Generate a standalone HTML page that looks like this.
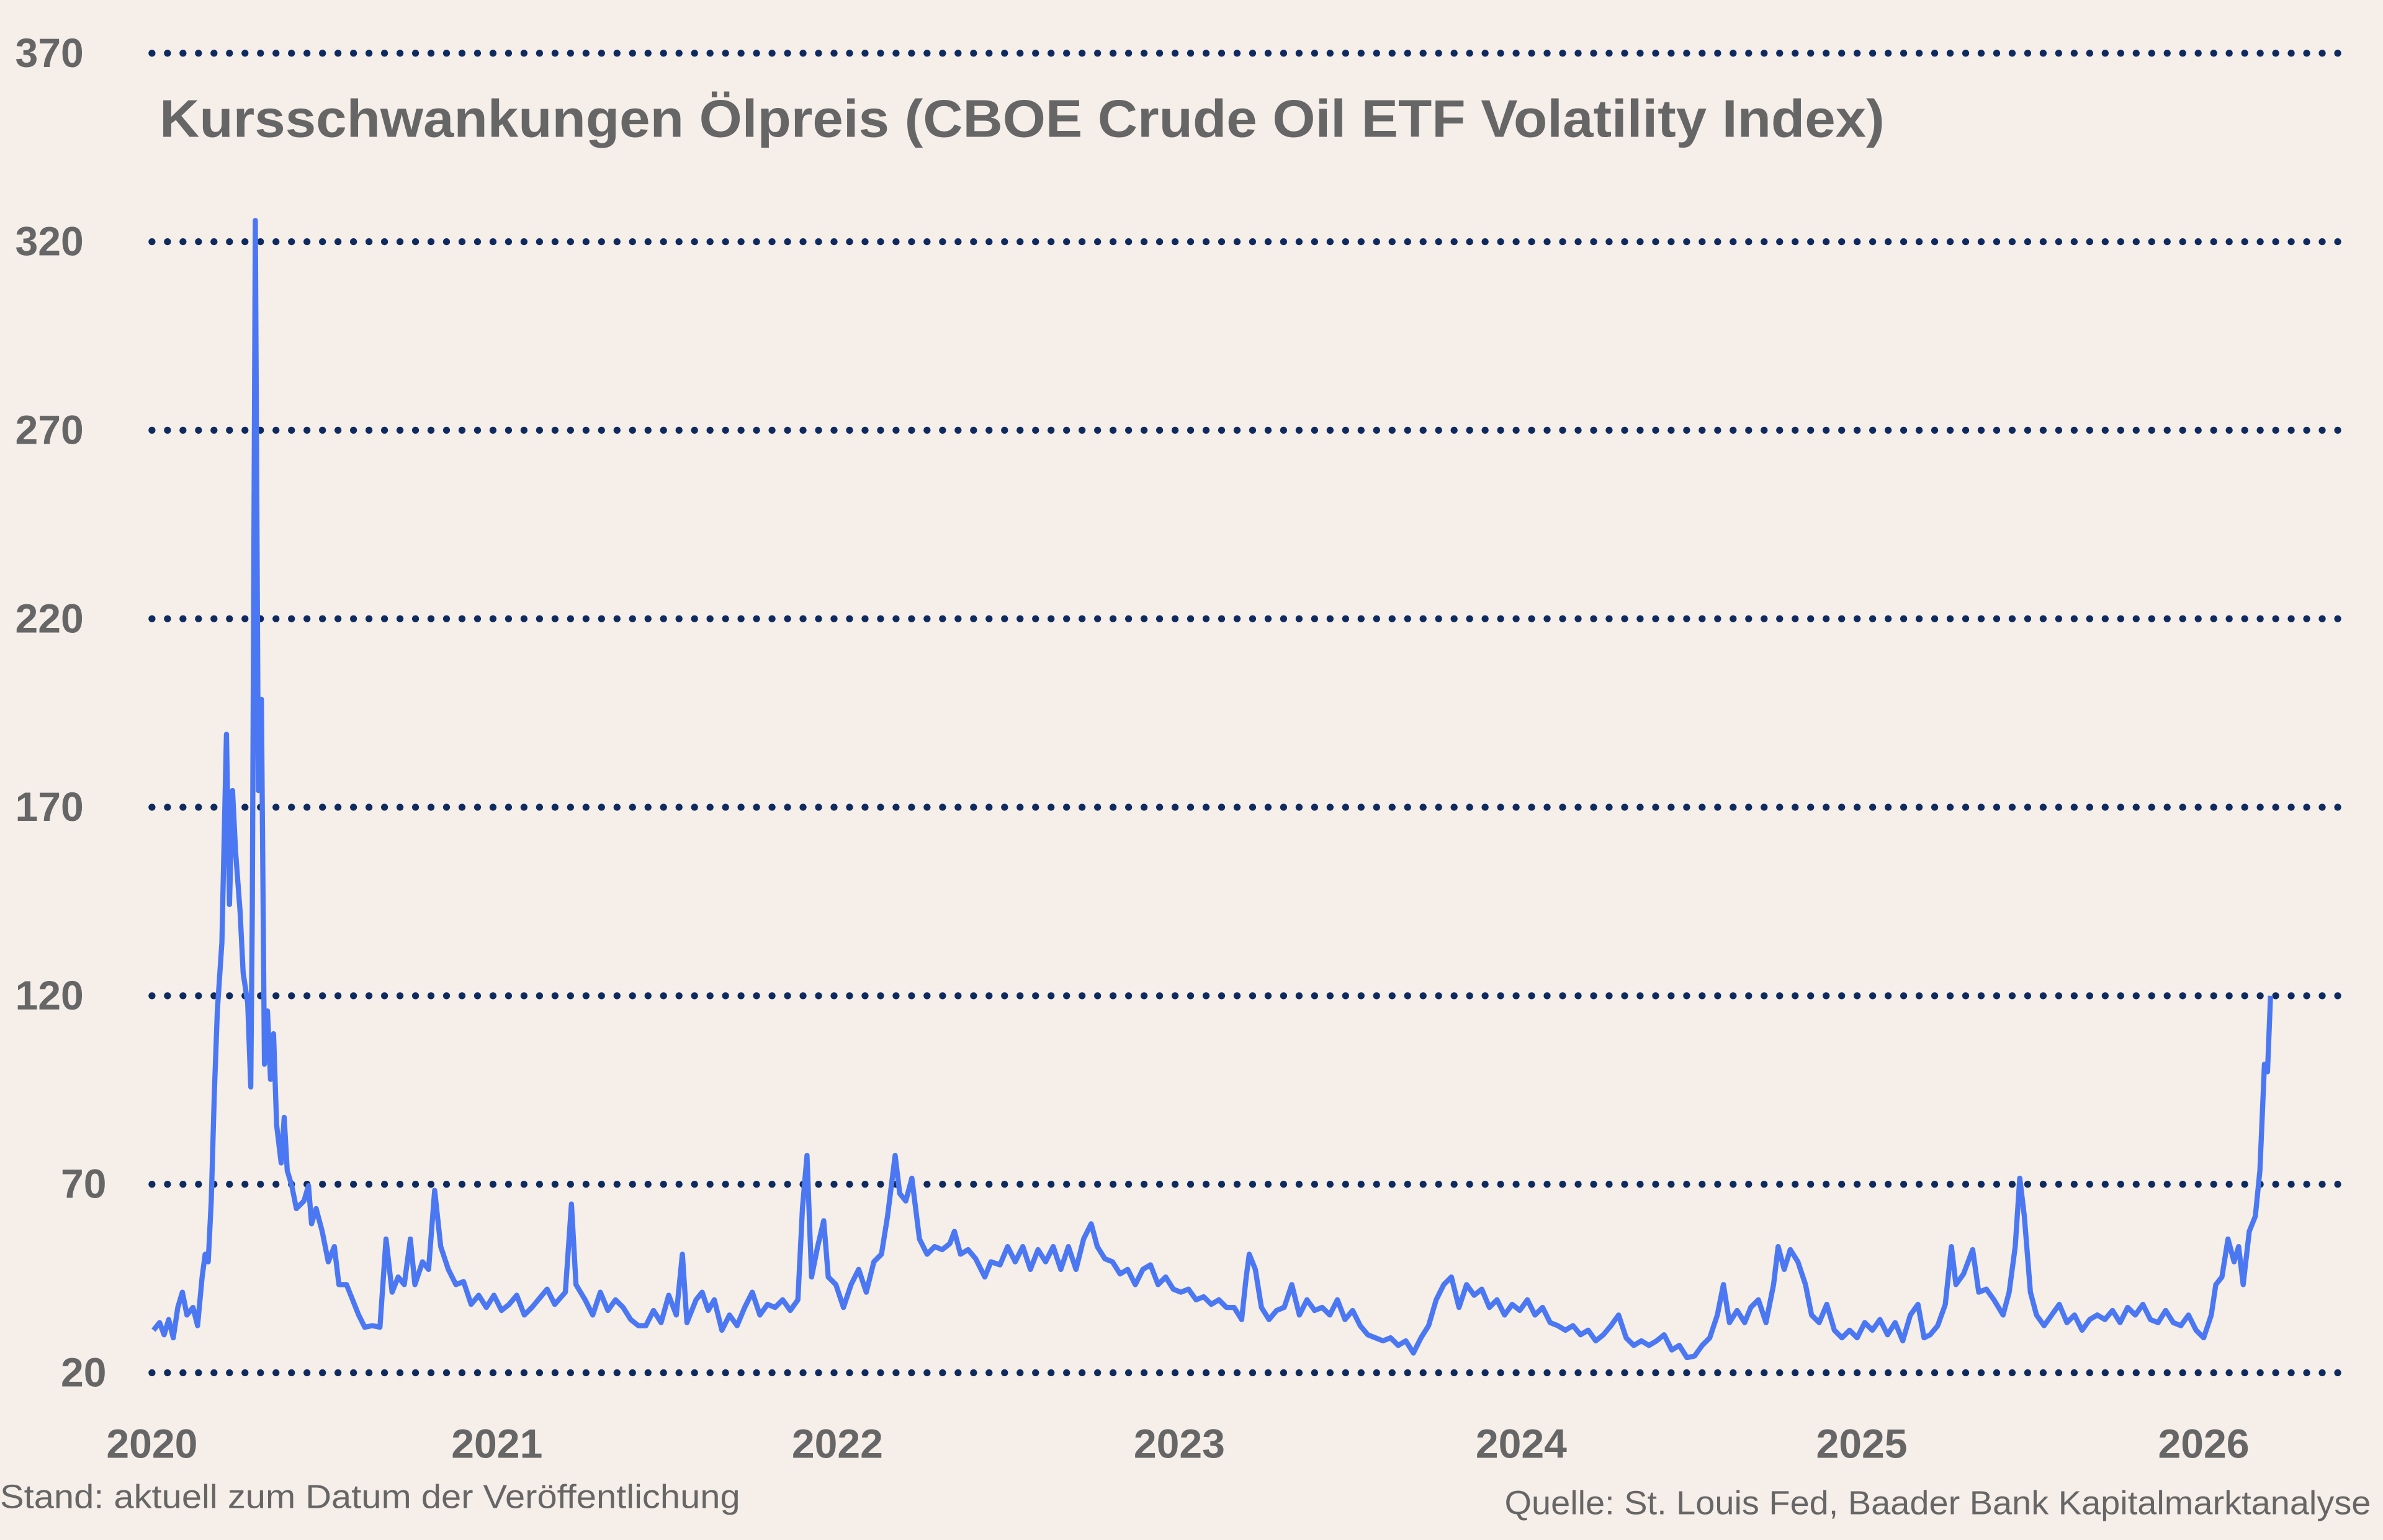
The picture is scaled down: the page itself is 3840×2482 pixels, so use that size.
<!DOCTYPE html>
<html><head><meta charset="utf-8"><style>
html,body{margin:0;padding:0;background:#f5eee9;}
svg{display:block;}
text{font-family:"Liberation Sans",sans-serif;}
</style></head><body>
<svg width="3840" height="2482" viewBox="0 0 1568 1013" xmlns="http://www.w3.org/2000/svg" preserveAspectRatio="none">
<rect width="1568" height="1013" fill="#f5eee9"/>
<g stroke="#0f2a5e" stroke-width="4.6" stroke-linecap="round" stroke-dasharray="0 10.2" fill="none">
<line x1="100" y1="35" x2="1545" y2="35"/>
<line x1="100" y1="159" x2="1545" y2="159"/>
<line x1="100" y1="283" x2="1545" y2="283"/>
<line x1="100" y1="407" x2="1545" y2="407"/>
<line x1="100" y1="531" x2="1545" y2="531"/>
<line x1="100" y1="655" x2="1545" y2="655"/>
<line x1="100" y1="779" x2="1545" y2="779"/>
<line x1="100" y1="903" x2="1545" y2="903"/>
</g>
<g fill="#666" font-size="27" font-weight="bold">
<text x="10" y="44">370</text>
<text x="10" y="168">320</text>
<text x="10" y="292">270</text>
<text x="10" y="416">220</text>
<text x="10" y="540">170</text>
<text x="10" y="664">120</text>
<text x="40" y="788">70</text>
<text x="40" y="912">20</text>
</g>
<g fill="#666" font-size="27" font-weight="bold" text-anchor="middle">
<text x="100" y="959">2020</text>
<text x="327" y="959">2021</text>
<text x="551" y="959">2022</text>
<text x="776" y="959">2023</text>
<text x="1001" y="959">2024</text>
<text x="1225" y="959">2025</text>
<text x="1450" y="959">2026</text>
</g>
<text x="105" y="90" fill="#666" font-size="35" font-weight="bold" textLength="1135" lengthAdjust="spacingAndGlyphs">Kursschwankungen Ölpreis (CBOE Crude Oil ETF Volatility Index)</text>
<text x="0" y="992" fill="#666" font-size="22" textLength="487" lengthAdjust="spacingAndGlyphs">Stand: aktuell zum Datum der Veröffentlichung</text>
<text x="990" y="996" fill="#666" font-size="22" textLength="570" lengthAdjust="spacingAndGlyphs">Quelle: St. Louis Fed, Baader Bank Kapitalmarktanalyse</text>
<polyline fill="none" stroke="#4b78f2" stroke-width="3.4" stroke-linejoin="round" points="101,875 105,870 108,878 111,868 114,880 117,860 120,850 123,865 127,860 130,872 133,840 135,825 137,830 139,790 141,720 143,665 146,620 149,483 151,595 153,520 155,560 158,600 160,640 163,660 165,715 166,600 168,145 170,520 172,460 174,700 176,665 178,710 180,680 182,740 185,765 187,735 189,770 192,780 195,795 200,790 203,780 205,805 208,795 212,810 216,830 220,820 223,845 228,845 232,855 236,865 240,873 245,872 250,873 254,815 258,850 262,840 266,845 270,815 273,845 278,830 282,835 286,783 290,820 295,835 300,845 305,843 310,858 315,852 320,860 325,852 330,862 335,858 340,852 345,865 350,860 360,848 365,858 372,850 376,792 379,845 385,855 390,865 395,850 400,862 405,855 410,860 415,868 420,872 425,872 430,862 435,870 440,852 445,865 449,825 452,870 458,855 462,850 466,862 470,855 475,875 480,865 485,872 490,860 495,850 500,865 505,858 510,860 515,855 520,862 525,855 528,795 531,760 534,840 538,820 542,803 545,840 550,845 555,860 560,845 565,835 570,850 575,830 580,825 584,800 589,760 592,785 596,790 600,775 605,815 610,825 615,820 620,822 625,818 628,810 632,825 637,822 642,828 648,840 652,830 658,832 663,820 668,830 673,820 678,835 683,822 688,830 693,820 698,835 703,820 708,835 713,815 718,805 722,820 727,828 732,830 737,838 742,835 747,845 752,835 757,832 762,845 767,840 772,848 777,850 782,848 787,855 792,853 797,858 802,855 807,860 812,860 817,868 820,840 822,825 826,835 830,860 835,868 840,862 845,860 850,845 855,865 860,855 865,862 870,860 875,865 880,855 885,868 890,862 895,872 900,878 905,880 910,882 915,880 920,885 925,882 930,890 935,880 940,872 945,855 950,845 955,840 960,860 965,845 970,852 975,848 980,860 985,855 990,865 995,858 1000,862 1005,855 1010,865 1015,860 1020,870 1025,872 1030,875 1035,872 1040,878 1045,875 1050,882 1055,878 1060,872 1065,865 1070,880 1075,885 1080,882 1085,885 1090,882 1095,878 1100,888 1105,885 1110,893 1115,892 1120,885 1125,880 1130,865 1134,845 1138,870 1143,862 1148,870 1152,860 1157,855 1162,870 1167,845 1170,820 1174,835 1178,822 1183,830 1188,845 1192,865 1197,870 1202,858 1207,875 1212,880 1217,875 1222,880 1227,870 1232,875 1237,868 1242,878 1247,870 1252,882 1257,865 1262,858 1266,880 1270,878 1275,872 1280,858 1284,820 1287,845 1292,838 1298,822 1302,850 1307,848 1312,855 1318,865 1322,850 1326,820 1329,775 1332,800 1336,850 1340,865 1345,872 1350,865 1355,858 1360,870 1365,865 1370,875 1375,868 1380,865 1385,868 1390,862 1395,870 1400,860 1405,865 1410,858 1415,868 1420,870 1425,862 1430,870 1435,872 1440,865 1445,875 1450,880 1455,865 1458,845 1462,840 1466,815 1470,830 1473,820 1476,845 1480,810 1484,800 1487,770 1490,700 1492,705 1494,655"/>
</svg>
</body></html>
